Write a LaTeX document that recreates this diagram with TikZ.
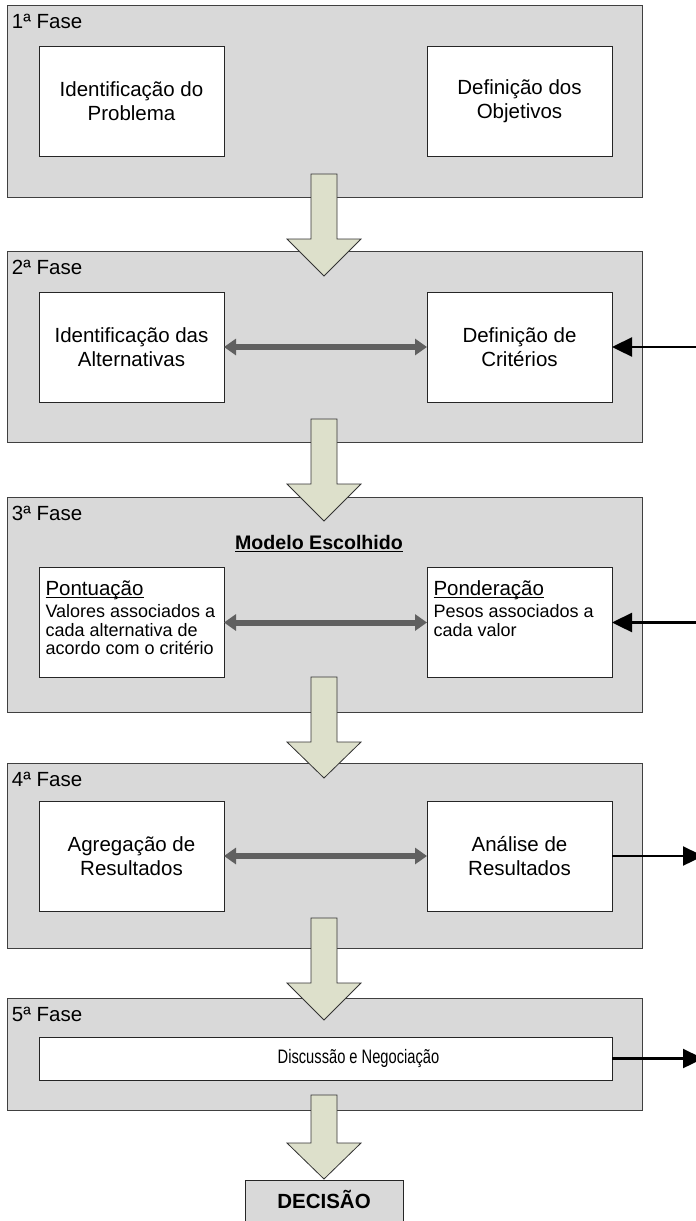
\documentclass[tikz,border=0pt]{standalone}
\usepackage{fontspec}
\setmainfont{Liberation Sans}
\usetikzlibrary{arrows.meta}
\definecolor{phasegray}{RGB}{217,217,217}
\definecolor{arrowfill}{RGB}{221,224,203}
\definecolor{linkgray}{RGB}{96,96,96}
\newcommand\fasearrow[3]{%
  \draw[blockarrow] (311,#1) -- (337,#1) -- (337,#2) -- (361,#2) -- (324,#3)
    -- (287,#2) -- (311,#2) -- cycle;}
\begin{document}
\begin{tikzpicture}[x=1pt,y=-1pt,
  every node/.style={inner sep=0pt, outer sep=0pt},
  mainfont/.style={font=\fontsize{20.5}{23.5}\selectfont},
  smallfont/.style={font=\fontsize{18}{18.5}\selectfont},
  phasebox/.style={draw=black!75, fill=phasegray, line width=0.8pt, minimum width=635, anchor=north west},
  stepbox/.style={draw=black!85, fill=white, line width=0.8pt, mainfont, align=center, minimum width=185, minimum height=110},
  phaselabel/.style={mainfont, anchor=base west},
  underlined/.style={line width=1pt},
  blockarrow/.style={draw=black!80, fill=arrowfill, line width=0.8pt, line join=miter},
  twoway/.style={draw=linkgray, line width=6pt, {Triangle[length=12pt,width=16pt]}-{Triangle[length=12pt,width=16pt]}},
  oneway/.style={draw=black, line width=2.4pt, -{Triangle[length=20pt,width=19pt]}}
]
\clip (0,0) rectangle (696,1221);
\useasboundingbox (0,0) rectangle (696,1221);

% phase frames
\node[phasebox, minimum height=192] (p1) at (7,5) {};
\node[phasebox, minimum height=191] (p2) at (7,251) {};
\node[phasebox, minimum height=215] (p3) at (7,497) {};
\node[phasebox, minimum height=185] (p4) at (7,763) {};
\node[phasebox, minimum height=112] (p5) at (7,998) {};

\node[phaselabel] (p1t) at (12,28) {1ª Fase};
\node[phaselabel] (p2t) at (12,274) {2ª Fase};
\node[phaselabel] (p3t) at (12,520) {3ª Fase};
\node[phaselabel] (p4t) at (12,786) {4ª Fase};
\node[phaselabel] (p5t) at (12,1021) {5ª Fase};

% 1st phase
\node[stepbox] (p1l) at (131.5,101) {Identificação do\\Problema};
\node[stepbox] (p1r) at (519.5,101) {Definição dos\\Objetivos};

% 2nd phase
\node[stepbox] (p2l) at (131.5,347) {Identificação das\\Alternativas};
\node[stepbox] (p2r) at (519.5,347) {Definição de\\Critérios};

% 3rd phase
\node[font=\fontsize{19.6}{22}\selectfont\bfseries, anchor=base] (model) at (319,549) {Modelo Escolhido};
\draw[underlined] ([yshift=-2.2pt]model.base west) -- ([yshift=-2.2pt]model.base east);
\node[stepbox] (p3l) at (131.5,622.5) {};
\node[stepbox] (p3r) at (519.5,622.5) {};
\node[mainfont, anchor=base west] (p3lh) at (45.5,595) {Pontuação};
\draw[underlined] ([yshift=-2.2pt]p3lh.base west) -- ([yshift=-2.2pt]p3lh.base east);
\node[smallfont, anchor=north west, align=left] (p3lb) at (45.5,604.5) {Valores associados a\\cada alternativa de\\acordo com o critério};
\node[mainfont, anchor=base west] (p3rh) at (433.5,595) {Ponderação};
\draw[underlined] ([yshift=-2.2pt]p3rh.base west) -- ([yshift=-2.2pt]p3rh.base east);
\node[smallfont, anchor=north west, align=left] (p3rb) at (433.5,604.5) {Pesos associados a\\cada valor};

% 4th phase
\node[stepbox] (p4l) at (131.5,856) {Agregação de\\Resultados};
\node[stepbox] (p4r) at (519.5,856) {Análise de\\Resultados};

% 5th phase
\node[stepbox, minimum width=573, minimum height=43] (p5b) at (325.5,1058.5) {};
\node[font=\fontsize{19.5}{22}\selectfont] (p5bt) at (358.5,1058.5) {\scalebox{0.753}[1]{Discussão e Negociação}};

% outcome
\node[draw=black!85, fill=phasegray, line width=0.8pt, minimum width=158, minimum height=60, anchor=north west] (dec) at (245,1180) {};
\node[font=\fontsize{20.5}{23.5}\selectfont\bfseries, anchor=base] (dect) at (324,1208) {DECISÃO};

% links inside the phases
\draw[twoway] (p2l.east) -- (p2r.west);
\draw[twoway] (p3l.east) -- (p3r.west);
\draw[twoway] (p4l.east) -- (p4r.west);

% links to and from outside
\coordinate (in2) at (696,347);
\coordinate (in3) at (696,622.5);
\coordinate (out4) at (703,856);
\coordinate (out5) at (703,1058.5);
\draw[oneway] (in2) -- (p2r.east);
\draw[oneway] (in3) -- (p3r.east);
\draw[oneway] (p4r.east) -- (out4);
\draw[oneway] (p5b.east) -- (out5);

% block arrows between the phases
\fasearrow{174}{239}{276}
\fasearrow{419}{484}{521}
\fasearrow{677}{742}{778}
\fasearrow{918}{983}{1020}
\fasearrow{1095}{1143}{1179}
\end{tikzpicture}
\end{document}
